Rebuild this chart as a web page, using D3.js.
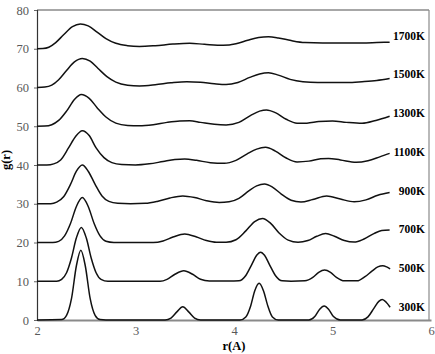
<!DOCTYPE html>
<html>
<head>
<meta charset="utf-8">
<script src="https://cdn.jsdelivr.net/npm/d3@7"></script>
<style>
  body { margin: 0; background: #fff; }
  text { font-family: "Liberation Serif", "Times New Roman", serif; }
</style>
</head>
<body>
<svg></svg>
<script>
'use strict';
// g(r), [r, g] pairs, before the vertical offset
var g300K = [[2.00,0],[2.25,0.1],[2.30,1.2],[2.35,5.5],[2.40,14],[2.445,18],[2.49,14],[2.54,5.5],[2.59,1.2],[2.64,0.1],[2.70,0],
  [3.30,0],[3.36,0.5],[3.42,2.1],[3.48,3.4],[3.54,2.1],[3.60,0.5],[3.66,0],
  [4.06,0],[4.12,0.8],[4.17,3.7],[4.21,7.5],[4.255,9.5],[4.30,7.5],[4.34,3.9],[4.39,0.8],[4.45,0],
  [4.76,0],[4.82,0.9],[4.87,2.8],[4.915,3.6],[4.96,2.8],[5.01,0.9],[5.08,0],
  [5.30,0],[5.36,0.8],[5.42,3.0],[5.47,4.8],[5.505,5.3],[5.545,4.6],[5.585,3.3]];
var g500K = [[2.00,0],[2.20,0],[2.25,0.5],[2.30,2.2],[2.35,6.0],[2.40,11.2],[2.45,13.9],[2.50,11.2],[2.55,6.0],[2.60,2.2],[2.65,0.5],[2.72,0],
  [3.25,0],[3.32,0.5],[3.40,1.8],[3.49,2.7],[3.58,1.8],[3.66,0.5],[3.75,0.05],[3.95,0.05],
  [4.05,0.1],[4.12,1.5],[4.18,4.3],[4.23,6.7],[4.27,7.5],[4.31,6.7],[4.36,4.3],[4.42,1.5],[4.49,0.1],[4.58,0],
  [4.72,0.1],[4.80,1.0],[4.86,2.3],[4.92,2.9],[4.98,2.3],[5.04,1.0],[5.12,0.1],
  [5.25,0.1],[5.33,1.2],[5.40,2.6],[5.46,3.7],[5.51,4.0],[5.55,3.7],[5.585,3.2]];
var g700K = [[2.00,0],[2.16,0],[2.22,0.3],[2.28,1.7],[2.34,4.9],[2.40,9.3],[2.46,11.6],[2.52,9.3],[2.58,4.9],[2.64,1.7],[2.70,0.3],[2.78,0],
  [3.18,0],[3.28,0.4],[3.38,1.4],[3.50,2.2],[3.62,1.4],[3.72,0.5],[3.82,0.05],[3.92,0.05],
  [4.02,0.7],[4.12,3.0],[4.21,5.4],[4.29,6.2],[4.37,5.0],[4.46,2.4],[4.55,0.6],[4.65,0.05],
  [4.75,0.5],[4.84,1.6],[4.93,2.3],[5.02,1.6],[5.12,0.5],[5.22,0.1],[5.32,0.9],[5.42,2.3],[5.50,3.1],[5.58,3.2]];
var g900K = [[2.00,0],[2.14,0],[2.20,0.4],[2.27,1.8],[2.34,5.0],[2.40,8.4],[2.46,10.0],[2.52,8.4],[2.59,5.0],[2.66,2.0],[2.73,0.6],[2.82,0.1],
  [2.95,0],[3.10,0.1],[3.22,0.6],[3.35,1.5],[3.48,2.0],[3.60,1.6],[3.72,0.8],[3.85,0.35],
  [3.95,0.5],[4.05,1.4],[4.15,3.3],[4.23,4.6],[4.31,5.1],[4.39,4.3],[4.48,2.5],[4.58,0.9],[4.68,0.45],
  [4.80,1.1],[4.94,2.0],[5.08,1.2],[5.22,0.5],[5.34,1.0],[5.46,2.2],[5.58,2.9]];
var g1100K = [[2.00,0],[2.10,0],[2.17,0.3],[2.24,1.3],[2.32,4.4],[2.39,7.3],[2.46,8.85],[2.53,7.6],[2.60,4.4],[2.68,1.9],[2.76,0.6],[2.86,0.1],
  [3.00,0],[3.14,0.3],[3.28,0.9],[3.40,1.4],[3.50,1.55],[3.62,1.2],[3.76,0.6],[3.90,0.45],
  [4.02,1.2],[4.13,2.8],[4.23,4.1],[4.32,4.55],[4.42,3.6],[4.53,1.8],[4.64,0.8],
  [4.76,1.0],[4.88,1.6],[4.96,1.7],[5.08,1.3],[5.24,0.7],[5.36,1.1],[5.48,2.1],[5.58,3.0]];
var g1300K = [[2.00,0],[2.08,0.05],[2.15,0.4],[2.22,1.5],[2.30,3.9],[2.38,6.9],[2.45,8.2],[2.53,7.2],[2.61,4.8],[2.70,2.4],[2.80,0.8],[2.92,0.2],
  [3.04,0.1],[3.18,0.4],[3.32,1.0],[3.45,1.35],[3.55,1.4],[3.66,1.0],[3.80,0.5],[3.92,0.35],
  [4.05,1.0],[4.17,2.8],[4.26,3.9],[4.33,4.2],[4.42,3.5],[4.53,1.8],[4.64,0.8],
  [4.74,0.8],[4.86,1.2],[5.00,1.35],[5.14,1.0],[5.30,0.75],[5.44,1.5],[5.58,2.6]];
var g1500K = [[2.00,0],[2.08,0.1],[2.15,0.6],[2.22,2.0],[2.30,4.4],[2.38,6.6],[2.46,7.5],[2.54,6.8],[2.62,4.9],[2.71,2.8],[2.80,1.4],[2.92,0.6],
  [3.04,0.4],[3.20,0.7],[3.36,1.2],[3.52,1.5],[3.66,1.35],[3.80,0.95],[3.92,0.75],
  [4.04,1.3],[4.16,2.6],[4.26,3.5],[4.35,3.8],[4.45,3.2],[4.57,2.1],[4.70,1.5],
  [4.85,1.3],[5.00,1.3],[5.15,1.3],[5.30,1.5],[5.45,1.8],[5.58,2.3]];
var g1700K = [[2.00,0],[2.06,0.05],[2.12,0.4],[2.19,1.6],[2.27,3.6],[2.36,5.7],[2.44,6.4],[2.52,5.9],[2.61,4.3],[2.70,2.6],[2.80,1.4],[2.92,0.8],
  [3.04,0.6],[3.20,0.8],[3.38,1.2],[3.55,1.4],[3.70,1.15],[3.89,0.9],
  [4.02,1.3],[4.14,2.2],[4.25,2.9],[4.35,3.1],[4.45,2.8],[4.58,2.1],[4.72,1.6],
  [4.90,1.5],[5.10,1.5],[5.30,1.5],[5.45,1.6],[5.58,1.7]];

var temps = ['300K', '500K', '700K', '900K', '1100K', '1300K', '1500K', '1700K'];
var series = [g300K, g500K, g700K, g900K, g1100K, g1300K, g1500K, g1700K];
var offsets = [0, 10, 20, 30, 40, 50, 60, 70];
var xTicks = [2, 3, 4, 5, 6];
var yTicks = [0, 10, 20, 30, 40, 50, 60, 70, 80];

var canvasWidth = 435;
var canvasHeight = 354;
var margin = { top: 10, right: 4, bottom: 34, left: 37 };
var width = 431 - margin.left;
var height = 320 - margin.top;

var svg = d3.select('svg')
  .attr('width', canvasWidth)
  .attr('height', canvasHeight);
var graphArea = svg.append('g')
  .attr('transform', 'translate(' + margin.left + ',' + margin.top + ')');

var xScale = d3.scaleLinear().domain([2, 6]).range([0, width]);
var yScale = d3.scaleLinear().domain([0, 80]).range([height, 0]);

// frame: gray top/right/bottom, dark left
graphArea.append('line').attr('x1', 0).attr('x2', width - 2).attr('y1', 0).attr('y2', 0)
  .attr('stroke', '#8a8a8a').attr('stroke-width', 1.5);
graphArea.append('line').attr('x1', width - 2).attr('x2', width - 2).attr('y1', 0).attr('y2', height)
  .attr('stroke', '#8a8a8a').attr('stroke-width', 1.2);

var yAxis = graphArea.append('g')
  .attr('class', 'y axis')
  .call(d3.axisLeft(yScale).tickValues(yTicks).tickSize(3).tickPadding(5));
yAxis.select('.domain').attr('stroke', '#333').attr('stroke-width', 1.2);
yAxis.selectAll('.tick line').attr('stroke', '#666');

var xAxis = graphArea.append('g')
  .attr('class', 'x axis')
  .attr('transform', 'translate(0,' + height + ')')
  .call(d3.axisBottom(xScale).tickValues(xTicks).tickFormat(d3.format('d')).tickSize(0).tickPadding(6));
xAxis.select('.domain').attr('stroke', '#8a8a8a').attr('stroke-width', 1.8);

svg.selectAll('.axis text')
  .style('font-family', '"Liberation Serif", "Times New Roman", serif')
  .style('font-size', '12.5px')
  .attr('fill', '#595959');

var line = d3.line()
  .x(function(d) { return xScale(d[0]); })
  .y(function(d) { return yScale(d[1]); })
  .curve(d3.curveMonotoneX);

graphArea.selectAll('path.curve').data(series).enter().append('path')
  .attr('class', 'curve')
  .attr('fill', 'none')
  .attr('stroke', '#111')
  .attr('stroke-width', 1.5)
  .attr('d', function(d, i) {
    return line(d.map(function(p) { return [p[0], p[1] + offsets[i]]; }));
  });

graphArea.selectAll('text.temp').data(temps).enter().append('text')
  .attr('class', 'temp')
  .attr('x', width - 6)
  .attr('y', function(d, i) { return yScale(offsets[i] + 3.4); })
  .attr('dy', '0.35em')
  .attr('text-anchor', 'end')
  .style('font-size', '11.5px')
  .style('font-weight', 'bold')
  .text(function(d) { return d; });

svg.append('text')
  .attr('x', margin.left + xScale(4))
  .attr('y', 350)
  .attr('text-anchor', 'middle')
  .style('font-size', '12.5px')
  .style('font-weight', 'bold')
  .text('r(A)');

svg.append('text')
  .attr('transform', 'translate(10,' + (margin.top + yScale(40) - 5) + ') rotate(-90)')
  .attr('text-anchor', 'middle')
  .style('font-size', '12.5px')
  .style('font-weight', 'bold')
  .text('g(r)');
</script>
</body>
</html>
